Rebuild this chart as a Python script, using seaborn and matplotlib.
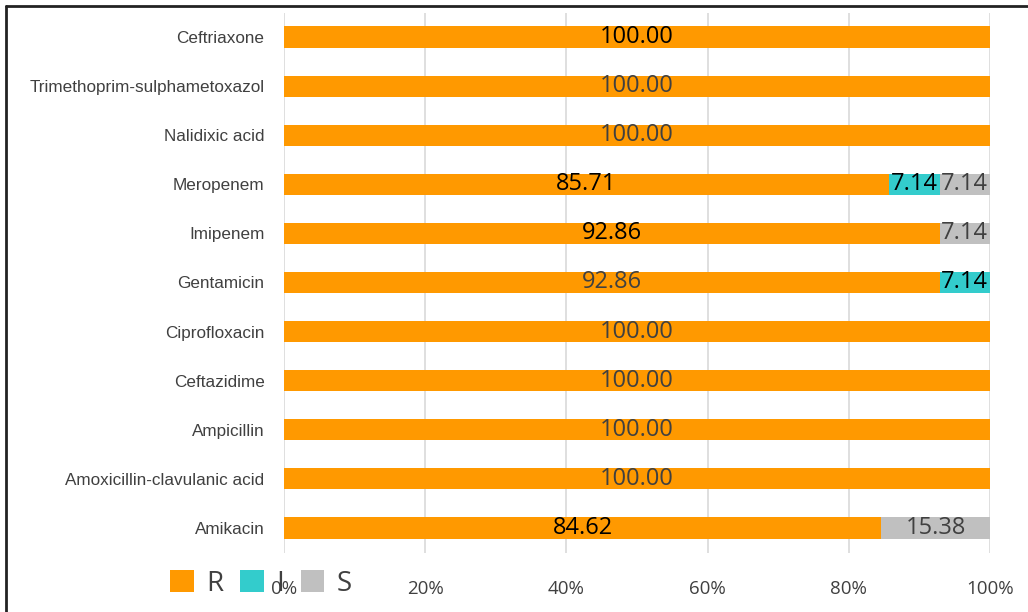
import matplotlib
matplotlib.use("Agg")
import matplotlib.pyplot as plt
import matplotlib.font_manager as fm
from matplotlib.patches import Patch
from matplotlib.lines import Line2D
import seaborn as sns
import pandas as pd

# ---- data ----
antibiotics = ["Ceftriaxone", "Trimethoprim-sulphametoxazol", "Nalidixic acid",
               "Meropenem", "Imipenem", "Gentamicin", "Ciprofloxacin",
               "Ceftazidime", "Ampicillin", "Amoxicillin-clavulanic acid", "Amikacin"]
R = [100.00, 100.00, 100.00, 85.71, 92.86, 92.86, 100.00, 100.00, 100.00, 100.00, 84.62]
I = [0, 0, 0, 7.14, 0, 7.14, 0, 0, 0, 0, 0]
S = [0, 0, 0, 7.14, 7.14, 0, 0, 0, 0, 0, 15.38]
xticks = [0, 20, 40, 60, 80, 100]
xticklabels = ["0%", "20%", "40%", "60%", "80%", "100%"]

# ---- style ----
C_R, C_I, C_S = "#FF9900", "#33CCCC", "#C0C0C0"
BLACK, DGRAY = "#000000", "#404040"
label_color = {
    ("Ceftriaxone", "R"): BLACK, ("Meropenem", "R"): BLACK, ("Meropenem", "I"): BLACK,
    ("Imipenem", "R"): BLACK, ("Gentamicin", "I"): BLACK, ("Amikacin", "R"): BLACK,
}

sns.set_style("white")
names = {f.name for f in fm.fontManager.ttflist}
cat_font = "Liberation Sans Narrow" if "Liberation Sans Narrow" in names else "Liberation Sans"
cat_size = 13.5 if cat_font == "Liberation Sans Narrow" else 12.3
num_font = "Open Sans"
plt.rcParams["font.family"] = [num_font, "DejaVu Sans"]

df = pd.DataFrame({"drug": antibiotics, "R": R, "I": I, "S": S})
df["RI"] = df["R"] + df["I"]
df["RIS"] = df["RI"] + df["S"]

fig = plt.figure(figsize=(10.28, 6.12), dpi=100)
ax = fig.add_axes([284/1028, 1 - 552.5/612, (990-284)/1028, (552.5-12.5)/612])

for col, c in [("RIS", C_S), ("RI", C_I), ("R", C_R)]:
    sns.barplot(data=df, y="drug", x=col, order=antibiotics, color=c,
                orient="h", width=0.43, saturation=1, ax=ax, zorder=2,
                edgecolor="none", linewidth=0)

# value labels
for i, row in df.iterrows():
    left = 0
    for ser in ["R", "I", "S"]:
        v = row[ser]
        if v > 0:
            ax.text(left + v / 2, i, f"{v:.2f}", ha="center", va="center",
                    fontsize=17, family=num_font,
                    color=label_color.get((row["drug"], ser), DGRAY), zorder=4)
        left += v

ax.set_xlim(0, 100)
ax.set_ylim(len(antibiotics) - 0.5, -0.5)
ax.set_xticks(xticks)
ax.set_xticklabels(xticklabels, fontsize=13.5, color=DGRAY, family=num_font)
ax.set_yticks(range(len(antibiotics)))
ax.set_yticklabels(antibiotics, fontsize=cat_size, color=DGRAY, family=cat_font)
ax.set_xlabel("")
ax.set_ylabel("")
ax.grid(axis="x", color="#D9D9D9", linewidth=1.2, zorder=0)
ax.set_axisbelow(True)
for s in ax.spines.values():
    s.set_visible(False)
ax.tick_params(axis="x", length=0, pad=19.5)
ax.tick_params(axis="y", length=0, pad=14)

handles = [Patch(facecolor=C_R, edgecolor="none"),
           Patch(facecolor=C_I, edgecolor="none"),
           Patch(facecolor=C_S, edgecolor="none")]
fig.legend(handles, ["R", "I", "S"], ncol=3, loc="center left",
           bbox_to_anchor=(170/1028, 1 - 584/612), frameon=False,
           fontsize=20, handlelength=0.85, handleheight=0.85,
           handletextpad=0.45, columnspacing=0.6, labelcolor=DGRAY,
           borderaxespad=0, borderpad=0)

# figure border (top and left edges)
fig.add_artist(Line2D([6/1028, 6/1028], [0, 1 - 6/612], transform=fig.transFigure,
                      color="#222222", linewidth=2))
fig.add_artist(Line2D([6/1028, 1], [1 - 6/612, 1 - 6/612], transform=fig.transFigure,
                      color="#222222", linewidth=2))

fig.savefig("out.png", dpi=100)
